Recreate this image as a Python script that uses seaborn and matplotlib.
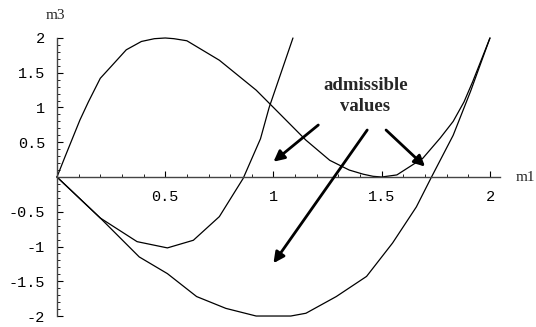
import numpy as np
import pandas as pd
import matplotlib
matplotlib.use("Agg")
import matplotlib.pyplot as plt
import seaborn as sns
from matplotlib.ticker import MultipleLocator

# curves (m1, m3)
upper_m1 = [0.0, 0.037, 0.106, 0.145, 0.2, 0.25, 0.32, 0.39, 0.45, 0.5, 0.54, 0.6, 0.75,
            0.92, 1.0, 1.15, 1.26, 1.35, 1.415, 1.46, 1.5, 1.57, 1.63, 1.69, 1.77, 1.83,
            1.88, 1.92, 2.0]
upper_m3 = [0.0, 0.29, 0.82, 1.08, 1.42, 1.59, 1.83, 1.95, 1.99, 2.0, 1.99, 1.96, 1.68,
            1.25, 1.0, 0.53, 0.24, 0.1, 0.04, 0.01, 0.0, 0.03, 0.15, 0.27, 0.56, 0.8,
            1.08, 1.37, 2.0]

lower1_m1 = [0.0, 0.2, 0.37, 0.51, 0.63, 0.75, 0.86, 0.94, 0.98, 1.09]
lower1_m3 = [0.0, -0.59, -0.93, -1.02, -0.91, -0.57, -0.02, 0.55, 1.0, 2.0]

lower2_m1 = [0.0, 0.2, 0.38, 0.51, 0.645, 0.78, 0.92, 1.08, 1.15, 1.29, 1.43, 1.55,
             1.66, 1.73, 1.83, 1.91, 2.0]
lower2_m3 = [0.0, -0.59, -1.15, -1.39, -1.72, -1.89, -2.0, -2.0, -1.96, -1.72, -1.43,
             -0.95, -0.43, 0.0, 0.6, 1.23, 2.0]

x_ticks = [0.5, 1, 1.5, 2]
x_labels = ["0.5", "1", "1.5", "2"]
y_ticks = [-2, -1.5, -1, -0.5, 0.5, 1, 1.5, 2]
y_labels = ["-2", "-1.5", "-1", "-0.5", "0.5", "1", "1.5", "2"]

sns.set_style("white")
plt.rcParams["font.family"] = ["Liberation Mono", "DejaVu Sans Mono"]

fig = plt.figure(figsize=(5.36, 3.27), dpi=100)
ax = fig.add_axes([0.1063, 0.0272, 0.826, 0.863])

for xs, ys in [(upper_m1, upper_m3), (lower1_m1, lower1_m3), (lower2_m1, lower2_m3)]:
    df = pd.DataFrame({"m1": xs, "m3": ys})
    sns.lineplot(data=df, x="m1", y="m3", sort=False, color="black", lw=0.9, ax=ax,
                 clip_on=False)

ax.set_xlim(0, 2.045)
ax.set_ylim(-2.03, 2.03)

for s in ["top", "right"]:
    ax.spines[s].set_visible(False)
ax.spines["left"].set_position(("data", 0))
ax.spines["bottom"].set_position(("data", 0))
ax.spines["left"].set_bounds(-2, 2)
ax.spines["bottom"].set_bounds(0, 2.045)
for s in ["left", "bottom"]:
    ax.spines[s].set_color("#444444")
    ax.spines[s].set_linewidth(1.0)

ax.set_xticks(x_ticks)
ax.set_xticklabels(x_labels)
ax.set_yticks(y_ticks)
ax.set_yticklabels(y_labels)
ax.xaxis.set_minor_locator(MultipleLocator(0.1))
ax.yaxis.set_minor_locator(MultipleLocator(0.1))
ax.tick_params(axis="x", which="major", direction="in", length=4, width=0.8, pad=9.5,
               labelsize=11, colors="black")
ax.tick_params(axis="y", which="major", direction="in", length=4, width=0.8, pad=8.5,
               labelsize=11, colors="black")
ax.tick_params(which="minor", direction="in", length=2, width=0.6, colors="black")
ax.tick_params(left=True, bottom=True, which="both")
ax.set_xlabel("")
ax.set_ylabel("")

serif = ["Liberation Serif", "DejaVu Serif"]
fig.text(0.1026, 0.954, "m3", family=serif, fontsize=11, ha="center", va="center")
fig.text(0.981, 0.456, "m1", family=serif, fontsize=11, ha="center", va="center")

ax.text(1.425, 1.17, "admissible\nvalues", family=serif, fontsize=13.5, ha="center",
        va="center", linespacing=1.3, fontweight="bold")

arrow = dict(arrowstyle="-|>", lw=2, color="black", mutation_scale=16,
             shrinkA=0, shrinkB=0)
ax.annotate("", xy=(1.0, 0.22), xytext=(1.207, 0.748), arrowprops=arrow)
ax.annotate("", xy=(1.0, -1.24), xytext=(1.433, 0.676), arrowprops=arrow)
ax.annotate("", xy=(1.70, 0.15), xytext=(1.52, 0.676), arrowprops=arrow)

fig.savefig("out.png", dpi=100)
